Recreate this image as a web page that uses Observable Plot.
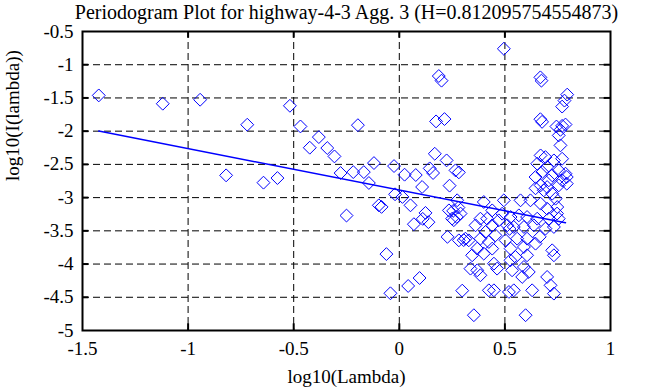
<!DOCTYPE html>
<html>
<head>
<meta charset="utf-8">
<script src="https://cdn.jsdelivr.net/npm/d3@7"></script>
<script src="https://cdn.jsdelivr.net/npm/@observablehq/plot@0.6"></script>
<style>
  html, body { margin: 0; padding: 0; background: #fff; }
  #chart svg { font-family: "Liberation Serif", "Times New Roman", serif; display: block; }
</style>
</head>
<body>
<div id="chart"></div>
<script>
const titleText = "Periodogram Plot for highway-4-3 Agg. 3 (H=0.812095754554873)";
const xLabel = "log10(Lambda)";
const yLabel = "log10(I(lambda))";

const xTicks = [-1.5, -1, -0.5, 0, 0.5, 1];
const yTicks = [-5, -4.5, -4, -3.5, -3, -2.5, -2, -1.5, -1, -0.5];

// log10(Lambda) of each periodogram point
const logLambda = [
  -1.423, -1.12, -0.943, -0.82, -0.72, -0.643, -0.577, -0.518, -0.468, -0.424,
  -0.381, -0.341, -0.307, -0.278, -0.25, -0.218, -0.196, -0.168, -0.144, -0.12,
  -0.097, -0.084, -0.061, -0.042, -0.025, -0.02,
  0.015, 0.025, 0.042, 0.053, 0.069, 0.078, 0.096, 0.108, 0.111, 0.124,
  0.138, 0.144, 0.16, 0.168, 0.174, 0.187, 0.2, 0.214, 0.224, 0.228,
  0.235, 0.238, 0.25, 0.255, 0.258, 0.266, 0.28, 0.272, 0.274, 0.282,
  0.282, 0.29, 0.298,
  0.313, 0.329, 0.361, 0.384, 0.400, 0.416, 0.440, 0.440, 0.487, 0.495,
  0.471, 0.408, 0.455, 0.384, 0.424, 0.503, 0.369, 0.440, 0.527, 0.527,
  0.511, 0.345, 0.400, 0.337, 0.369, 0.384, 0.448, 0.463, 0.424, 0.448,
  0.519, 0.353, 0.526, 0.534, 0.522, 0.305,
  0.495, 0.668, 0.673, 0.795, 0.782, 0.771, 0.668, 0.676, 0.744, 0.771,
  0.787, 0.763,
  0.755, 0.763, 0.669, 0.692, 0.653, 0.732, 0.771, 0.700, 0.677, 0.755,
  0.787, 0.724, 0.645, 0.708, 0.771, 0.793, 0.755, 0.669, 0.700, 0.793,
  0.645, 0.684, 0.724, 0.740, 0.748, 0.574, 0.621, 0.669, 0.700, 0.566,
  0.605, 0.653, 0.708, 0.755, 0.542, 0.590, 0.637, 0.692, 0.732, 0.558,
  0.605, 0.590, 0.645, 0.724,
  0.550, 0.605, 0.732, 0.590, 0.613, 0.582, 0.700, 0.716, 0.732, 0.542,
  0.629, 0.598, 0.665, 0.747
];

// log10(I(lambda)) of each periodogram point
const logI = [
  -1.462, -1.587, -1.527, -2.665, -1.903, -2.775, -2.706, -1.618, -1.929, -2.249,
  -2.089, -2.254, -2.38, -2.63, -3.27, -2.616, -1.91, -2.616, -2.78, -2.48,
  -3.116, -3.14, -3.85, -4.44, -2.525, -2.95,
  -2.99, -2.655, -4.33, -3.116, -3.40, -2.66, -4.21, -2.84, -3.32, -3.23,
  -3.37, -2.56, -2.63, -2.34, -1.853, -1.17, -1.24, -1.818, -2.44, -3.59,
  -3.192, -2.82, -3.317, -3.2, -3.34, -2.59, -3.15, -3.29, -3.04, -2.62,
  -3.643, -3.24, -4.40,
  -3.618, -3.643, -3.417, -3.317, -3.066, -3.317, -3.192, -3.417, -3.242, -3.041,
  -3.342, -3.517, -3.568, -3.618, -3.668, -3.643, -3.768, -3.768, -3.768, -3.292,
  -3.417, -3.868, -3.843, -4.069, -4.094, -4.169, -3.994, -4.069, -4.395, -4.395,
  -4.42, -4.77, -3.944, -4.094, -3.47, -3.64,
  -0.76, -1.19, -1.24, -1.45, -1.54, -1.63, -1.82, -1.86, -1.93, -1.92,
  -1.9, -1.98,
  -2.064, -2.214, -2.365, -2.390, -2.490, -2.440, -2.415, -2.540, -2.615, -2.590,
  -2.640, -2.665, -2.690, -2.740, -2.740, -2.690, -2.816, -2.816, -2.841, -2.79,
  -2.86, -2.891, -2.941, -3.016, -3.142, -3.041, -3.041, -3.091, -3.167, -3.267,
  -3.292, -3.317, -3.317, -3.317, -3.442, -3.442, -3.417, -3.467, -3.442, -3.618,
  -3.618, -3.743, -3.693, -3.793,
  -3.893, -3.868, -3.868, -4.044, -4.119, -4.194, -4.194, -4.32, -4.445, -4.395,
  -4.395, -4.77, -3.59, -3.24
];

// least-squares fit line endpoints
const fitX = [-1.423, 0.787];
const fitY = [-1.999, -3.378];

const points = logLambda.map((x, i) => ({x, y: logI[i]}));
const fit = fitX.map((x, i) => ({x, y: fitY[i]}));
const innerX = xTicks.slice(1, -1);
const innerY = yTicks.slice(1, -1);
const xMin = xTicks[0], xMax = xTicks[xTicks.length - 1];
const yMin = yTicks[0], yMax = yTicks[yTicks.length - 1];
const tickLenX = 0.03, tickLenY = 0.1;

const fmt = d => String(d);

const chart = Plot.plot({
  width: 658,
  height: 387,
  marginLeft: 82,
  marginRight: 48,
  marginTop: 31,
  marginBottom: 57,
  style: {fontFamily: '"Liberation Serif", "Times New Roman", serif', fontSize: "19px", background: "#fff", color: "black"},
  x: {domain: [xMin, xMax]},
  y: {domain: [yMin, yMax]},
  marks: [
    Plot.gridX(innerX, {stroke: "black", strokeOpacity: 1, strokeWidth: 1, strokeDasharray: "7,4"}),
    Plot.gridY(innerY, {stroke: "black", strokeOpacity: 1, strokeWidth: 1, strokeDasharray: "7,4"}),
    // inward ticks on all four sides
    Plot.ruleX(innerX, {x: d => d, y1: yMin, y2: yMin + tickLenY, stroke: "black", strokeWidth: 2}),
    Plot.ruleX(innerX, {x: d => d, y1: yMax, y2: yMax - tickLenY, stroke: "black", strokeWidth: 2}),
    Plot.ruleY(innerY, {y: d => d, x1: xMin, x2: xMin + tickLenX, stroke: "black", strokeWidth: 2}),
    Plot.ruleY(innerY, {y: d => d, x1: xMax, x2: xMax - tickLenX, stroke: "black", strokeWidth: 2}),
    Plot.dot(points, {x: "x", y: "y", symbol: "diamond2", r: 5.8, stroke: "#0000ff", strokeWidth: 1, fill: "none"}),
    Plot.line(fit, {x: "x", y: "y", stroke: "#0000ff", strokeWidth: 1.5}),
    Plot.frame({stroke: "black", strokeWidth: 2}),
    Plot.axisX({ticks: xTicks, tickSize: 0, tickPadding: 11, tickFormat: fmt, label: null, fontSize: 19, fill: "black"}),
    Plot.axisY({ticks: yTicks, tickSize: 0, tickPadding: 9, tickFormat: fmt, label: null, fontSize: 19, fill: "black"}),
    Plot.text([titleText], {frameAnchor: "top", lineAnchor: "middle", dy: -19, fontSize: 20, fill: "black"}),
    Plot.text([xLabel], {frameAnchor: "bottom", lineAnchor: "middle", dy: 46, fontSize: 19, fill: "black"}),
    Plot.text([yLabel], {frameAnchor: "left", dx: -70, rotate: -90, fontSize: 19, fill: "black"})
  ]
});
document.getElementById("chart").appendChild(chart);
</script>
</body>
</html>
